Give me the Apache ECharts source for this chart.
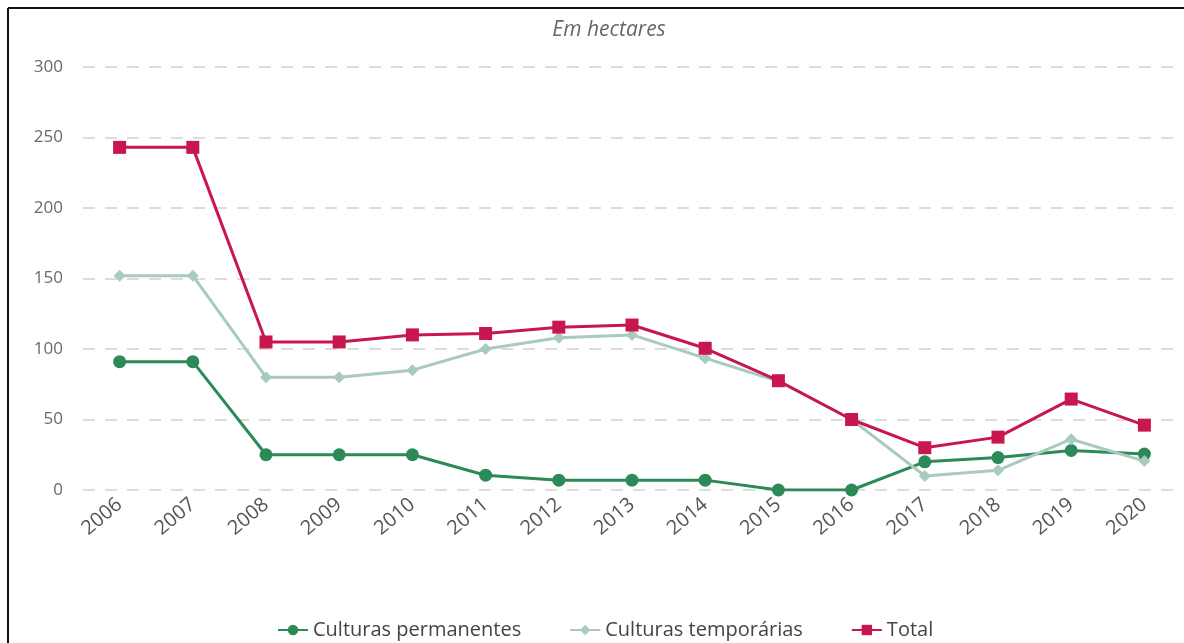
<!DOCTYPE html>
<html>
<head>
<meta charset="utf-8">
<script src="https://cdn.jsdelivr.net/npm/echarts@6/dist/echarts.min.js"></script>
<style>
html,body{margin:0;padding:0;background:#fff;}
#c{width:1184px;height:643px;}
</style>
</head>
<body>
<div id="c"></div>
<script>
const years = ['2006','2007','2008','2009','2010','2011','2012','2013','2014','2015','2016','2017','2018','2019','2020'];
const permanentes = [91, 91, 25, 25, 25, 10.5, 7, 7, 7, 0, 0, 20, 23, 28, 25.5];
const temporarias = [152, 152, 80, 80, 85, 100, 108, 110, 93.5, 77, 50, 10, 14, 36, 20.5];
const total = [243, 243, 105, 105, 110, 111, 115.5, 117, 100.5, 77.5, 50, 30, 37.5, 64.5, 46];
const yTicks = [0, 50, 100, 150, 200, 250, 300];

const chart = echarts.init(document.getElementById('c'));
const font = '"Open Sans", "Noto Sans", sans-serif';
chart.setOption({
  animation: false,
  title: {
    text: 'Em hectares', left: 604, top: 15, textAlign: 'center',
    textStyle: {fontFamily: font, fontStyle: 'italic', fontWeight: 'normal', fontSize: 21, color: '#666'}
  },
  graphic: [
    {type: 'line', shape: {x1: 8, y1: 8, x2: 1184, y2: 8}, style: {stroke: '#111', lineWidth: 2}},
    {type: 'line', shape: {x1: 8, y1: 8, x2: 8, y2: 643}, style: {stroke: '#111', lineWidth: 2}}
  ],
  grid: {left: 83, right: 3, top: 67, bottom: 153, containLabel: false},
  legend: {
    bottom: -2, left: 272, itemGap: 48, itemWidth: 30, itemHeight: 13,
    textStyle: {fontFamily: font, fontSize: 20, color: '#444'},
    data: ['Culturas permanentes', 'Culturas temporárias', 'Total']
  },
  xAxis: {
    type: 'category', data: years, boundaryGap: true,
    axisLine: {show: false}, axisTick: {show: false},
    axisLabel: {rotate: 40, fontFamily: font, fontSize: 20, color: '#555', margin: 12}
  },
  yAxis: {
    type: 'value', min: yTicks[0], max: yTicks[yTicks.length-1], interval: 50,
    axisLine: {show: false}, axisTick: {show: false},
    axisLabel: {fontFamily: font, fontSize: 17, color: '#6a6a6a', margin: 20},
    splitLine: {lineStyle: {color: '#dcdcdc', width: 2, type: [12, 10]}}
  },
  series: [
    {
      name: 'Culturas permanentes', type: 'line', data: permanentes,
      symbol: 'circle', symbolSize: 13,
      lineStyle: {color: '#2b8a57', width: 3},
      itemStyle: {color: '#2b8a57'}
    },
    {
      name: 'Culturas temporárias', type: 'line', data: temporarias,
      symbol: 'diamond', symbolSize: 12,
      lineStyle: {color: '#a9cbbf', width: 3},
      itemStyle: {color: '#a9cbbf'}
    },
    {
      name: 'Total', type: 'line', data: total,
      symbol: 'rect', symbolSize: 13,
      lineStyle: {color: '#c8174e', width: 3},
      itemStyle: {color: '#c8174e'}
    }
  ]
});
</script>
</body>
</html>
